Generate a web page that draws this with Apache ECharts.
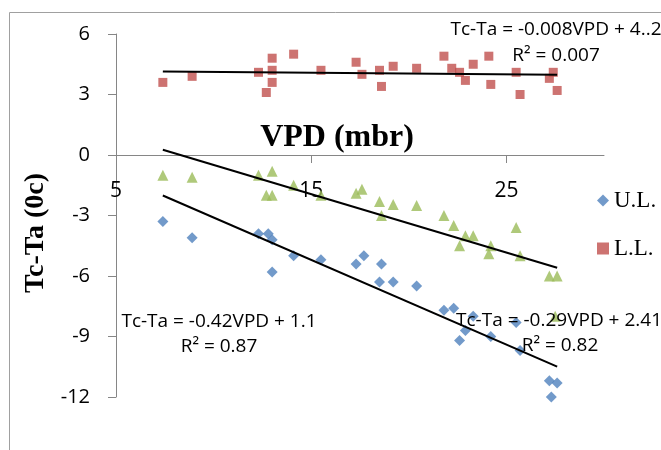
<!DOCTYPE html>
<html>
<head>
<meta charset="utf-8">
<script src="https://cdn.jsdelivr.net/npm/echarts@6/dist/echarts.min.js"></script>
<style>
html, body { margin: 0; padding: 0; background: #fff; }
#main { width: 661px; height: 450px; }
</style>
</head>
<body>
<div id="main"></div>
<script>
// U.L. (blue diamonds)
var ulX = [7.4, 8.9, 12.3, 12.8, 13.0, 13.0, 14.1, 15.5, 17.3, 17.7, 18.5, 18.6, 19.2, 20.4, 21.8, 22.3, 22.6, 22.9, 23.3, 24.2, 25.5, 25.7, 27.2, 27.3, 27.6];
var ulY = [-3.3, -4.1, -3.9, -3.9, -4.2, -5.8, -5.0, -5.2, -5.4, -5.0, -6.3, -5.4, -6.3, -6.5, -7.7, -7.6, -9.2, -8.7, -8.0, -9.0, -8.3, -9.7, -11.2, -12.0, -11.3];
// L.L. (red squares)
var llX = [7.4, 8.9, 12.3, 12.7, 13.0, 13.0, 13.0, 14.1, 15.5, 17.3, 17.6, 18.5, 18.6, 19.2, 20.4, 21.8, 22.2, 22.6, 22.9, 23.3, 24.1, 24.2, 25.5, 25.7, 27.2, 27.4, 27.6];
var llY = [3.6, 3.9, 4.1, 3.1, 4.8, 4.2, 3.6, 5.0, 4.2, 4.6, 4.0, 4.2, 3.4, 4.4, 4.3, 4.9, 4.3, 4.1, 3.7, 4.5, 4.9, 3.5, 4.1, 3.0, 3.8, 4.1, 3.2];
// third series (green triangles)
var gX = [7.4, 8.9, 12.3, 12.7, 13.0, 13.0, 14.1, 15.5, 17.3, 17.6, 18.5, 18.6, 19.2, 20.4, 21.8, 22.3, 22.6, 22.9, 23.3, 24.1, 24.2, 25.5, 25.7, 27.2, 27.5, 27.6];
var gY = [-1.0, -1.1, -1.0, -2.0, -0.8, -2.0, -1.5, -2.0, -1.9, -1.7, -2.3, -3.0, -2.45, -2.5, -3.0, -3.5, -4.5, -4.0, -4.0, -4.9, -4.5, -3.6, -5.0, -6.0, -8.0, -6.0];

// trendlines [slope, intercept]
var ulFit = [-0.42, 1.1];
var gFit = [-0.29, 2.41];
var llFit = [-0.008, 4.2];

var xTicks = [5, 15, 25];
var eqTexts = ['Tc-Ta = -0.008VPD + 4..2', 'R\u00b2 = 0.007', 'Tc-Ta = -0.42VPD + 1.1', 'R\u00b2 = 0.87', 'Tc-Ta = -0.29VPD + 2.41', 'R\u00b2 = 0.82'];

function pairs(xs, ys) {
	var out = [];
	for (var i = 0; i < xs.length; i++) out.push([xs[i], ys[i]]);
	return out;
}
function fitLine(xs, fit) {
	var a = Math.min.apply(null, xs), b = Math.max.apply(null, xs);
	return [[a, fit[0] * a + fit[1]], [b, fit[0] * b + fit[1]]];
}

var sans = "'Open Sans', sans-serif";
var serif = "'Liberation Serif', 'Times New Roman', serif";
var axisGray = '#868686';

var gridTop = 34, gridH = 363, yMin = -12, yMax = 6;
// move the x axis (line, ticks, labels) up to y = 0
var xOffset = -gridH * (0 - yMin) / (yMax - yMin);

var myChart = echarts.init(document.getElementById('main'));

function eq(txt, x, y) {
	return {
		type: 'text', x: x, y: y, z: 100,
		style: { text: txt, font: "19px " + sans, fill: '#000', align: 'center', verticalAlign: 'middle' }
	};
}

var option = {
	animation: false,
	backgroundColor: '#fff',
	grid: { left: 116, top: gridTop, width: 488, height: gridH },
	legend: {
		orient: 'vertical',
		left: 592, top: 184,
		itemWidth: 12, itemHeight: 12, itemGap: 25,
		textStyle: { fontFamily: serif, fontSize: 23, color: '#000', lineHeight: 23 },
		data: [{ name: 'U.L.', icon: 'diamond' }, { name: 'L.L.', icon: 'rect' }]
	},
	xAxis: {
		type: 'value', min: 5, max: 30, interval: 10,
		offset: xOffset,
		axisLine: { onZero: false, lineStyle: { color: axisGray, width: 1 } },
		axisTick: { show: true, length: 8, customValues: xTicks, lineStyle: { color: axisGray } },
		axisLabel: { customValues: xTicks, margin: 26, fontFamily: sans, fontSize: 21, color: '#000' },
		splitLine: { show: false }
	},
	yAxis: {
		type: 'value', min: yMin, max: yMax, interval: 3,
		axisLine: { show: true, onZero: false, lineStyle: { color: axisGray, width: 1 } },
		axisTick: { show: true, length: 8, lineStyle: { color: axisGray } },
		axisLabel: { margin: 26, fontFamily: sans, fontSize: 20, color: '#000' },
		splitLine: { show: false }
	},
	series: [
		{ name: 'U.L.', type: 'scatter', symbol: 'diamond', symbolSize: 11, itemStyle: { color: '#4F81BD' }, data: pairs(ulX, ulY), z: 3 },
		{ name: 'L.L.', type: 'scatter', symbol: 'rect', symbolSize: 9, itemStyle: { color: '#C0504D' }, data: pairs(llX, llY), z: 3 },
		{ name: 'G', type: 'scatter', symbol: 'triangle', symbolSize: 11, itemStyle: { color: '#9BBB59' }, data: pairs(gX, gY), z: 3 },
		{ type: 'line', data: fitLine(ulX, ulFit), symbol: 'none', lineStyle: { color: '#000', width: 2 }, z: 4, silent: true },
		{ type: 'line', data: fitLine(gX, gFit), symbol: 'none', lineStyle: { color: '#000', width: 2 }, z: 4, silent: true },
		{ type: 'line', data: fitLine(llX, llFit), symbol: 'none', lineStyle: { color: '#000', width: 2 }, z: 4, silent: true }
	],
	graphic: [
		{ type: 'rect', z: -1, shape: { x: 9.5, y: 12.5, width: 700, height: 500 }, style: { fill: 'none', stroke: '#A0A0A0', lineWidth: 1 } },
		{ type: 'text', x: 337, y: 154, z: 50, style: { text: 'VPD (mbr)', font: "bold 32px " + serif, fill: '#000', align: 'center', verticalAlign: 'bottom' } },
		{ type: 'text', x: 36, y: 233, rotation: Math.PI / 2, z: 50, style: { text: 'Tc-Ta (0c)', font: "bold 28px " + serif, fill: '#000', align: 'center', verticalAlign: 'middle' } },
		eq(eqTexts[0], 556, 30),
		eq(eqTexts[1], 556, 56),
		eq(eqTexts[2], 219, 322),
		eq(eqTexts[3], 219, 347),
		eq(eqTexts[4], 559, 321),
		eq(eqTexts[5], 560, 346)
	]
};

myChart.setOption(option);
</script>
</body>
</html>
